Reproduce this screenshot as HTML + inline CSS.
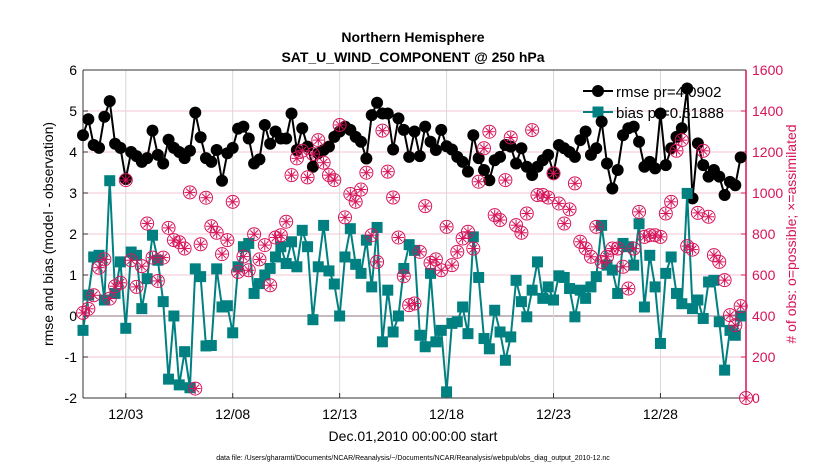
<!DOCTYPE html>
<html><head><meta charset="utf-8"><style>
html,body{margin:0;padding:0;background:#fff;}
svg{display:block;font-family:"Liberation Sans",sans-serif;}
</style></head><body>
<svg id="chart" width="830" height="470" viewBox="0 0 830 470" xmlns="http://www.w3.org/2000/svg">
<g id="grid"></g>
<g id="axes"></g>
<g id="legend">
  <line x1="583" y1="91" x2="613" y2="91" stroke="#000" stroke-width="2"/>
  <circle cx="598" cy="91" r="6" fill="#000"/>
  <text x="616" y="97" font-size="15">rmse pr=4.0902</text>
  <line x1="583" y1="112" x2="613" y2="112" stroke="#008080" stroke-width="2"/>
  <rect x="592.5" y="106.5" width="11" height="11" fill="#008080"/>
  <text x="616" y="118" font-size="15">bias pr=0.61888</text>
</g>
<g id="series"></g>
<text x="413" y="42" text-anchor="middle" font-size="14" font-weight="bold">Northern Hemisphere</text>
<text x="413" y="62" text-anchor="middle" font-size="14" font-weight="bold">SAT_U_WIND_COMPONENT @ 250 hPa</text>
<text transform="translate(53,234) rotate(-90)" text-anchor="middle" font-size="14">rmse and bias (model - observation)</text>
<text transform="translate(796,234) rotate(-90)" text-anchor="middle" font-size="14" fill="#d6145a"># of obs: o=possible; ×=assimilated</text>
<text x="413" y="441" text-anchor="middle" font-size="14">Dec.01,2010 00:00:00 start</text>
<text x="413" y="460" text-anchor="middle" font-size="7">data file: /Users/gharamti/Documents/NCAR/Reanalysis/~/Documents/NCAR/Reanalysis/webpub/obs_diag_output_2010-12.nc</text>
</svg>
<script>
const rmse = [4.41,4.8,4.17,4.1,4.86,5.24,4.2,4.1,3.34,4.0,3.9,3.76,3.85,4.52,3.93,3.72,4.3,4.1,4.0,3.85,4.03,4.96,4.36,3.85,3.76,4.05,3.3,3.97,4.1,4.57,
4.62,4.33,3.72,3.82,4.66,4.2,4.5,4.33,4.33,4.94,4.05,4.58,4.13,3.64,3.97,4.05,4.13,4.37,4.5,4.62,4.54,4.37,4.25,3.84,4.9,5.2,4.94,4.94,4.06,4.82,4.54,3.88,
4.5,3.9,4.62,4.25,4.05,4.54,4.14,4.06,3.88,3.76,3.52,4.41,3.85,3.56,3.31,3.8,3.88,4.17,4.13,3.72,4.09,3.64,3.44,3.64,3.8,3.93,3.48,4.17,4.09,4.0,3.88,4.29,4.5,
3.93,4.09,4.74,3.72,3.11,3.56,4.41,4.58,4.62,4.25,3.64,3.76,3.6,4.94,3.68,4.09,4.37,4.58,5.55,2.87,4.21,3.68,3.4,3.56,3.4,2.95,3.27,3.19,3.87];
const bias = [-0.35,0.51,1.44,1.48,0.39,3.3,0.55,1.32,-0.3,1.56,1.48,0.18,0.91,1.97,1.36,0.35,-1.54,0.0,-1.68,-0.87,-1.75,1.15,0.96,-0.73,-0.72,1.15,0.22,0.25,-0.41,1.2,
1.69,1.77,0.55,0.79,1.0,1.16,1.44,1.69,1.28,1.81,1.2,2.09,1.69,-0.09,1.2,2.21,1.1,0.78,0.0,1.44,2.13,1.26,1.04,1.85,0.71,2.16,-0.63,0.63,-0.39,0.0,1.16,1.74,
1.6,-0.47,-0.75,1.04,-0.63,-0.35,-1.85,-0.18,-0.14,0.22,-0.43,1.93,0.94,-0.55,-0.8,0.14,-0.39,-1.08,-0.51,0.87,0.35,-0.02,0.63,1.32,0.43,0.71,0.39,0.98,0.94,0.67,-0.02,0.63,0.43,
0.71,0.96,2.21,1.24,1.12,0.55,1.77,1.69,1.24,2.25,0.22,1.48,0.71,-0.67,1.04,1.44,0.55,0.3,2.99,0.18,0.39,-0.06,0.83,0.87,-0.14,-1.32,-0.35,-0.47,0.0];
const obs = [415,435,501,636,676,485,545,562,1063,672,542,643,851,685,571,685,830,770,760,729,1003,46,750,977,838,806,702,770,957,615,
690,623,799,676,746,550,783,794,860,1087,1169,1206,1076,1190,1258,1148,1087,1063,1332,881,995,957,1017,1099,794,664,1304,1104,978,783,594,453,
461,713,936,659,676,623,835,648,713,778,811,729,1055,1218,1299,892,868,1063,1271,843,806,900,1307,990,990,978,1096,949,851,920,1047,762,729,689,
835,664,689,729,729,640,534,729,908,786,794,794,786,900,957,1206,1258,741,724,903,1206,884,697,664,575,404,355,448,0];
const leftTicks = [-2,-1,0,1,2,3,4,5,6];
const rightTicks = [0,200,400,600,800,1000,1200,1400,1600];
const dateTickDays = [2,7,12,17,22,27];
const dateTickLabels = ["12/03","12/08","12/13","12/18","12/23","12/28"];
const stepDays = 0.25;

const L=83,R=746,T=70,B=398;
const xScale = d => L + d/31*(R-L);
const yScale = v => B - (v+2)/8*(B-T);
const y2Scale = v => B - v/1600*(B-T);
const NS="http://www.w3.org/2000/svg";
function mk(tag, attrs, parent){const e=document.createElementNS(NS,tag);for(const k in attrs)e.setAttribute(k,attrs[k]);parent.appendChild(e);return e;}
const grid=document.getElementById('grid'), axes=document.getElementById('axes'), series=document.getElementById('series');
const crim="#d6145a";

leftTicks.forEach(v=>{
  const y=yScale(v);
  if(v>-2&&v<6){
    const g=mk('line',{x1:L,x2:R,y1:y,y2:y,stroke:v===0?'#c8b8c0':'#f3c6d6','stroke-width':v===0?2:1},grid);
    
    
  }
  mk('line',{x1:L,x2:L+5,y1:y,y2:y,stroke:'#333'},axes);
  const t=mk('text',{x:L-6,y:y+5,'text-anchor':'end','font-size':14},axes);
  t.textContent=v;
  
  
});
rightTicks.forEach(v=>{
  const y=y2Scale(v);
  mk('line',{x1:R-5,x2:R,y1:y,y2:y,stroke:crim},axes);
  const t=mk('text',{x:R+6,y:y+5,'font-size':14,fill:crim},axes);
  t.textContent=v;
  
  
});
dateTickDays.forEach((d,i)=>{
  const x=xScale(d);
  const g=mk('line',{x1:x,x2:x,y1:T,y2:B,stroke:'#d8d8d8'},grid);
  
  
  mk('line',{x1:x,x2:x,y1:B,y2:B-5,stroke:'#333'},axes);
  const t=mk('text',{x:x,y:419,'text-anchor':'middle','font-size':14},axes);
  t.textContent=dateTickLabels[i];
  
  
});
mk('line',{x1:L,x2:R,y1:T,y2:T,stroke:'#333'},axes);
mk('line',{x1:L,x2:R,y1:B,y2:B,stroke:'#333'},axes);
mk('line',{x1:L,x2:L,y1:T,y2:B,stroke:'#333'},axes);
mk('line',{x1:R,x2:R,y1:T,y2:B,stroke:crim,'stroke-width':1.5},axes);

const rl=mk('polyline',{points:rmse.map((v,i)=>xScale(i*stepDays)+','+yScale(v)).join(' '),fill:'none',stroke:'#000','stroke-width':2},series);


rmse.forEach((v,i)=>{
  const c=mk('circle',{cx:xScale(i*stepDays),cy:yScale(v),r:6,fill:'#000'},series);
  
  
});
const bl=mk('polyline',{points:bias.map((v,i)=>xScale(i*stepDays)+','+yScale(v)).join(' '),fill:'none',stroke:'#008080','stroke-width':2},series);


bias.forEach((v,i)=>{
  const s=mk('rect',{x:xScale(i*stepDays)-5.5,y:yScale(v)-5.5,width:11,height:11,fill:'#008080'},series);
  
  
});
obs.forEach((v,i)=>{
  const cx=xScale(i*stepDays), cy=y2Scale(v);
  const g=mk('g',{stroke:crim,'stroke-width':1,fill:'none'},series);
  
  
  mk('circle',{cx:cx,cy:cy,r:6.5},g);
  mk('line',{x1:cx-5.5,x2:cx+5.5,y1:cy,y2:cy},g);
  mk('line',{x1:cx,x2:cx,y1:cy-5.5,y2:cy+5.5},g);
  mk('line',{x1:cx-3.8,x2:cx+3.8,y1:cy-3.8,y2:cy+3.8},g);
  mk('line',{x1:cx-3.8,x2:cx+3.8,y1:cy+3.8,y2:cy-3.8},g);
});
</script>
</body></html>
